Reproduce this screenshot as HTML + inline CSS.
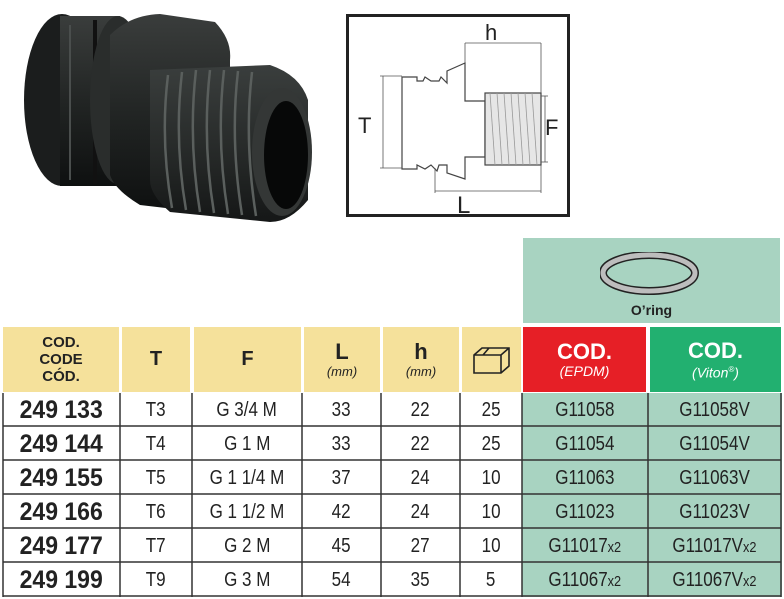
<!DOCTYPE html>
<html><head><meta charset="utf-8"><style>
body{margin:0;width:784px;height:599px;background:#fff;position:relative;overflow:hidden;font-family:"Liberation Sans",sans-serif;}
.a{position:absolute;}
.c{position:absolute;display:flex;align-items:center;justify-content:center;text-align:center;box-sizing:border-box;}
.y{background:#f5e19b;color:#222;font-weight:bold;}
.r{font-size:20px;color:#222;}
.r span.s{display:inline-block;transform:scaleX(0.85);white-space:nowrap;}
.n{font-size:25px;font-weight:bold;color:#222;}
.n span.s{display:inline-block;transform:scaleX(0.92);white-space:nowrap;}
.g{background:#a8d3c1;}
</style></head><body>
<!-- photo -->
<svg class="a" style="left:0;top:0" width="330" height="230">
<defs>
<linearGradient id="bk" x1="0" y1="0" x2="0" y2="1"><stop offset="0" stop-color="#3a3d3c"/><stop offset="0.5" stop-color="#222524"/><stop offset="1" stop-color="#0e1010"/></linearGradient>
<linearGradient id="th" x1="0" y1="0" x2="0" y2="1"><stop offset="0" stop-color="#3a3e3d"/><stop offset="0.6" stop-color="#252827"/><stop offset="1" stop-color="#151717"/></linearGradient>
</defs>
<ellipse cx="62" cy="100" rx="38" ry="86" fill="#1b1d1d"/>
<rect x="60" y="16" width="60" height="170" fill="url(#bk)"/>
<line x1="70" y1="25" x2="70" y2="180" stroke="#4a4e4d" stroke-width="2"/>
<line x1="95" y1="20" x2="95" y2="184" stroke="#111" stroke-width="4"/>
<ellipse cx="118" cy="100" rx="28" ry="84" fill="#2a2d2c"/>
<path d="M110 35 Q130 15 160 14 L215 22 Q232 40 230 60 L230 190 Q215 208 200 212 L140 205 Q115 190 110 175 Z" fill="url(#bk)"/>
<path d="M150 70 L270 65 Q300 75 308 100 L308 200 Q290 222 270 222 L170 212 Q150 195 150 180 Z" fill="url(#th)"/>
<g stroke="#5a5f5d" stroke-width="2.5" fill="none">
<path d="M168 75 Q160 140 172 208"/><path d="M182 72 Q174 140 186 210"/><path d="M196 70 Q188 140 200 212"/><path d="M210 70 Q202 140 214 213"/><path d="M224 70 Q216 140 228 214"/><path d="M238 71 Q230 140 242 215"/><path d="M252 72 Q244 140 256 216"/>
</g>
<ellipse cx="282" cy="152" rx="30" ry="64" fill="#343736"/>
<ellipse cx="286" cy="155" rx="22" ry="54" fill="#070808"/>
</svg>
<!-- drawing -->
<svg class="a" style="left:345;top:13" width="228" height="207">
<rect x="2.5" y="2.5" width="221" height="200" fill="#fff" stroke="#222" stroke-width="3"/>
<g stroke="#444" stroke-width="1.2" fill="#fff">
<path d="M57 64 L72 64 L72 68 L78 68 L80 64 L86 68 L94 68 L96 64 L102 70 L102 58 L120 50 L120 88 L140 88 L140 144 L120 144 L120 166 L102 160 L102 152 L94 152 L92 158 L86 152 L80 156 L72 152 L72 156 L57 156 Z"/>
<rect x="140" y="80" width="56" height="72" fill="#e6e6e6"/>
</g>
<g stroke="#999" stroke-width="0.8">
<line x1="145" y1="80" x2="150" y2="152"/><line x1="152" y1="80" x2="157" y2="152"/><line x1="159" y1="80" x2="164" y2="152"/><line x1="166" y1="80" x2="171" y2="152"/><line x1="173" y1="80" x2="178" y2="152"/><line x1="180" y1="80" x2="185" y2="152"/><line x1="187" y1="80" x2="192" y2="152"/>
</g>
<g stroke="#555" stroke-width="0.8">
<line x1="38" y1="63" x2="38" y2="155"/><line x1="35" y1="63" x2="57" y2="63"/><line x1="35" y1="155" x2="57" y2="155"/>
<line x1="120" y1="30" x2="196" y2="30"/><line x1="120" y1="30" x2="120" y2="50"/><line x1="196" y1="30" x2="196" y2="80"/>
<line x1="90" y1="178" x2="196" y2="178"/><line x1="90" y1="155" x2="90" y2="180"/><line x1="196" y1="152" x2="196" y2="180"/>
<line x1="196" y1="83" x2="203" y2="83"/><line x1="196" y1="149" x2="203" y2="149"/><line x1="200" y1="83" x2="200" y2="149"/>
</g>
<g font-family="Liberation Sans" font-size="22" fill="#222">
<text x="13" y="120">T</text><text x="140" y="27">h</text><text x="112" y="200" font-size="24">L</text><text x="200" y="122">F</text>
</g>
</svg>
<!-- oring box -->
<div class="a g" style="left:523px;top:238px;width:257px;height:85px"></div>
<svg class="a" style="left:600px;top:252px" width="100" height="44">
<ellipse cx="49" cy="21" rx="46" ry="18" fill="none" stroke="#222" stroke-width="8"/>
<ellipse cx="49" cy="21" rx="46" ry="18" fill="none" stroke="#bdbdbd" stroke-width="5"/>
</svg>
<div class="a" style="left:523px;top:302px;width:257px;text-align:center;font-weight:bold;font-size:14px;color:#222">O’ring</div>
<!-- header -->
<div class="c y" style="left:3px;top:327px;width:116px;height:65px;font-size:15px;line-height:17px">COD.<br>CODE<br>CÓD.</div>
<div class="c y" style="left:122px;top:327px;width:68px;height:65px;font-size:20px">T</div>
<div class="c y" style="left:194px;top:327px;width:107px;height:65px;font-size:20px">F</div>
<div class="c y" style="left:304px;top:327px;width:76px;height:65px;flex-direction:column;font-size:22px;line-height:24px">L<span style="font-size:13px;font-weight:normal;font-style:italic;line-height:16px">(mm)</span></div>
<div class="c y" style="left:383px;top:327px;width:76px;height:65px;flex-direction:column;font-size:22px;line-height:24px">h<span style="font-size:13px;font-weight:normal;font-style:italic;line-height:16px">(mm)</span></div>
<div class="c y" style="left:462px;top:327px;width:59px;height:65px">
<svg width="40" height="30"><path d="M2 10 L10 3 L37 3 L37 21 L29 28 L2 28 Z M2 10 L29 10 L37 3 M29 10 L29 28 M17 3 L11 10" fill="none" stroke="#222" stroke-width="1.6"/></svg></div>
<div class="c" style="left:523px;top:327px;width:123px;height:65px;background:#e61f26;color:#fff;flex-direction:column;font-weight:bold;font-size:22px;line-height:23px">COD.<span style="font-size:14px;font-weight:normal;font-style:italic;line-height:16px">(EPDM)</span></div>
<div class="c" style="left:650px;top:327px;width:131px;height:65px;background:#22b070;color:#fff;flex-direction:column;font-weight:bold;font-size:22px;line-height:23px">COD.<span style="font-size:14px;font-weight:normal;font-style:italic;line-height:16px">(Viton<sup style="font-size:8px">®</sup>)</span></div>
<!-- body -->
<div class="a g" style="left:522px;top:393px;width:260px;height:204px"></div>
<svg class="a" style="left:0;top:0" width="784" height="599">
<g stroke="#333" stroke-width="1.5">
<line x1="3" y1="393" x2="3" y2="597"/>
<line x1="120" y1="393" x2="120" y2="597"/><line x1="192" y1="393" x2="192" y2="597"/><line x1="302" y1="393" x2="302" y2="597"/><line x1="381" y1="393" x2="381" y2="597"/><line x1="460" y1="393" x2="460" y2="597"/><line x1="522" y1="393" x2="522" y2="597"/><line x1="648" y1="393" x2="648" y2="597"/><line x1="781" y1="393" x2="781" y2="597"/>
<line x1="3" y1="426" x2="781" y2="426"/><line x1="3" y1="460" x2="781" y2="460"/><line x1="3" y1="494" x2="781" y2="494"/><line x1="3" y1="528" x2="781" y2="528"/><line x1="3" y1="562" x2="781" y2="562"/><line x1="3" y1="596" x2="781" y2="596"/>
</g></svg>
<div id="rows"></div>
<script>
var d=[["249 133","T3","G 3/4 M","33","22","25","G11058","G11058V"],["249 144","T4","G 1 M","33","22","25","G11054","G11054V"],["249 155","T5","G 1 1/4 M","37","24","10","G11063","G11063V"],["249 166","T6","G 1 1/2 M","42","24","10","G11023","G11023V"],["249 177","T7","G 2 M","45","27","10","G11017<span style='font-size:15px'>x2</span>","G11017V<span style='font-size:15px'>x2</span>"],["249 199","T9","G 3 M","54","35","5","G11067<span style='font-size:15px'>x2</span>","G11067V<span style='font-size:15px'>x2</span>"]];
var x=[3,120,192,302,381,460,522,648,781],h="";
d.forEach(function(r,i){var t=393+i*34;r.forEach(function(v,j){h+='<div class="c '+(j==0?'n':'r')+'" style="left:'+x[j]+'px;top:'+t+'px;width:'+(x[j+1]-x[j])+'px;height:34px"><span class="s">'+v+'</span></div>';});});
document.getElementById("rows").innerHTML=h;
</script>
</body></html>
